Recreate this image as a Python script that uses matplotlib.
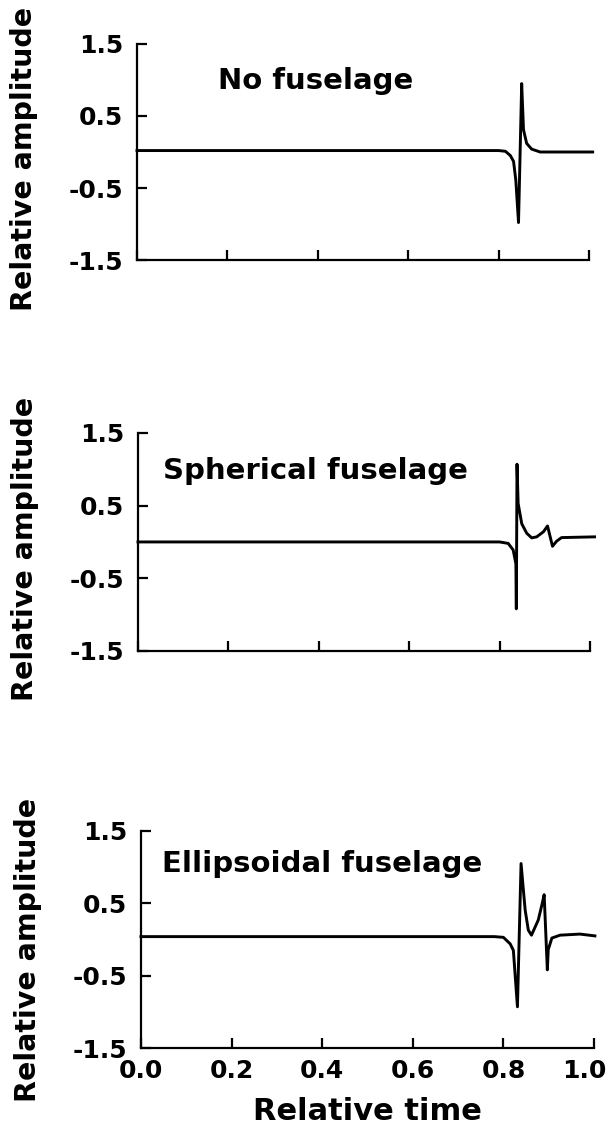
import matplotlib
matplotlib.use("Agg")
import matplotlib.pyplot as plt
import matplotlib.transforms as mtransforms

# panel titles
titles = ["No fuselage", "Spherical fuselage", "Ellipsoidal fuselage"]

# waveforms (relative time, relative amplitude)
t_none = [0.0, 0.80, 0.815, 0.826, 0.833, 0.838, 0.844, 0.847, 0.851, 0.855,
          0.862, 0.873, 0.892, 0.95, 1.008]
a_none = [0.02, 0.02, 0.01, -0.05, -0.13, -0.39, -0.98, -0.16, 0.95, 0.31,
          0.12, 0.04, 0.0, 0.0, 0.0]

t_sph = [0.0, 0.80, 0.819, 0.830, 0.836, 0.837, 0.8385, 0.841, 0.849,
         0.860, 0.871, 0.882, 0.897, 0.906, 0.917, 0.926, 0.937, 1.01]
a_sph = [0.0, 0.0, -0.02, -0.11, -0.30, -0.92, 1.07, 0.53, 0.25,
         0.12, 0.056, 0.07, 0.14, 0.22, -0.06, 0.01, 0.06, 0.07]

t_ell = [0.0, 0.78, 0.800, 0.815, 0.822, 0.831, 0.839, 0.848, 0.855, 0.862,
         0.877, 0.885, 0.890, 0.897, 0.899, 0.907, 0.925, 0.969, 1.002]
a_ell = [0.04, 0.04, 0.03, -0.06, -0.15, -0.93, 1.05, 0.41, 0.13, 0.06,
         0.27, 0.48, 0.62, -0.42, -0.14, 0.02, 0.06, 0.075, 0.05]

series = [(t_none, a_none), (t_sph, a_sph), (t_ell, a_ell)]

xticks = [0.0, 0.2, 0.4, 0.6, 0.8, 1.0]
yticks = [-1.5, -0.5, 0.5, 1.5]

# axes rectangles in figure fractions (scan is slightly skewed)
boxes = [[0.2235, 0.7695, 0.7374, 0.1915],
         [0.2251, 0.4229, 0.7374, 0.1933],
         [0.2300, 0.0709, 0.7390, 0.1924]]
title_x = [0.179, 0.055, 0.046]
title_y = [0.87, 0.87, 0.94]

fig = plt.figure(figsize=(6.13, 11.28), dpi=100)

for i in range(3):
    ax = fig.add_axes(boxes[i])
    t, a = series[i]
    ax.plot(t, a, color="black", lw=2.1, clip_on=False)
    ax.set_xlim(0, 1)
    ax.set_ylim(-1.5, 1.5)
    ax.spines["top"].set_visible(False)
    ax.spines["right"].set_visible(False)
    for s in ["left", "bottom"]:
        ax.spines[s].set_linewidth(1.6)
    ax.set_xticks(xticks)
    ax.set_yticks(yticks)
    ax.set_yticklabels(["%.1f" % v for v in yticks], fontsize=18, fontweight="bold")
    ax.tick_params(direction="in", length=7, width=1.6, color="black")
    ax.tick_params(axis="y", pad=10)
    ax.tick_params(axis="x", pad=8)
    if i == 2:
        ax.set_xticklabels(["%.1f" % v for v in xticks], fontsize=18, fontweight="bold")
        ax.set_xlabel("Relative time", fontsize=22, fontweight="bold", labelpad=10)
        # last label sits a little left of its tick in the original
        lab = ax.get_xticklabels()[-1]
        lab.set_transform(lab.get_transform() +
                          mtransforms.ScaledTranslation(-10 / 100, 0, fig.dpi_scale_trans))
    else:
        ax.set_xticklabels([])
    ax.set_ylabel("Relative amplitude", fontsize=20.5, fontweight="bold")
    ax.yaxis.set_label_coords(-0.218, 0.47 if i < 2 else 0.45)
    ax.text(title_x[i], title_y[i], titles[i], fontsize=21, fontweight="bold",
            ha="left", va="baseline")

fig.savefig("out.png", dpi=100)
